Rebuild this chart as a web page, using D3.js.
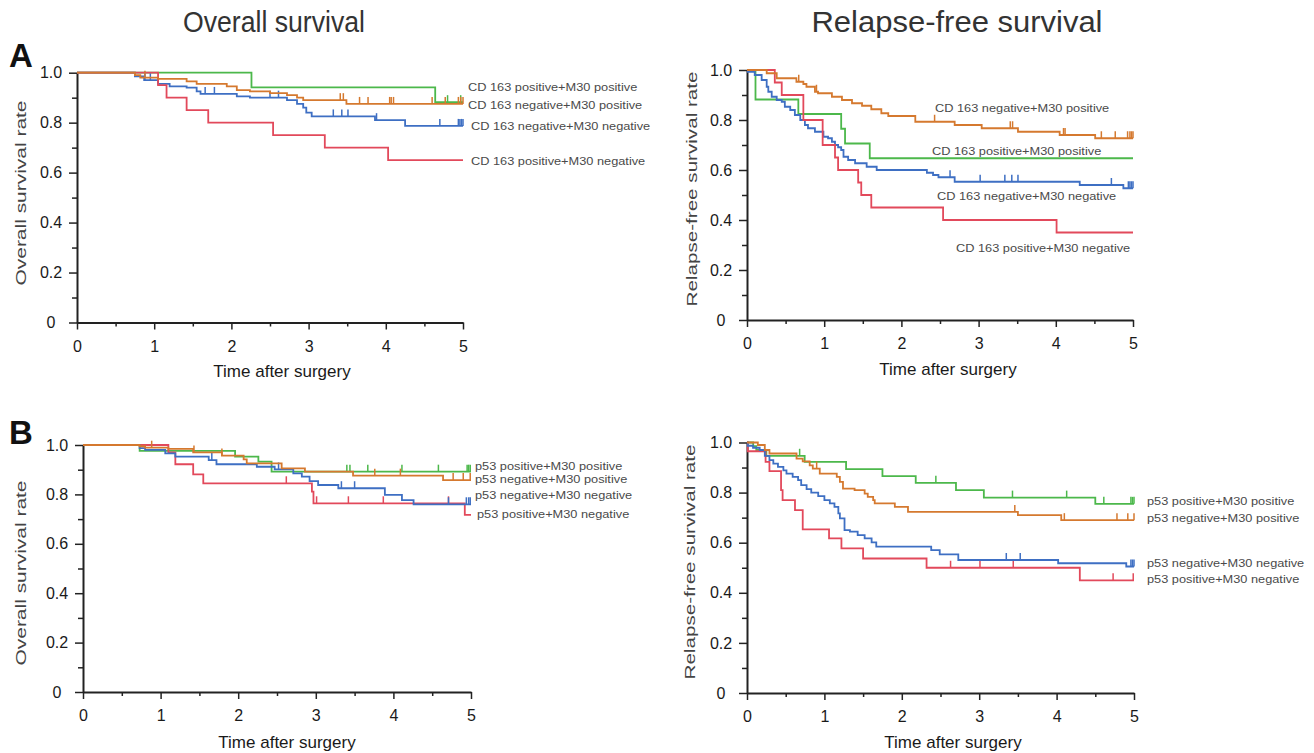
<!DOCTYPE html>
<html>
<head>
<meta charset="utf-8">
<script src="https://cdn.jsdelivr.net/npm/d3@7"></script>
<style>
  body { margin: 0; background: #fff; }
  svg { display: block; font-family: "Liberation Sans", Arial, sans-serif; }
</style>
</head>
<body>
<svg id="chart" width="1314" height="753"></svg>
<script>
// Step curves: [time, survival after the step]; censor marks as times

// A, overall survival, CD163 / M30
var osCdPosPos = [[2.26, 0.941], [4.64, 0.882]];
var osCdPosPosCens = [4.80, 4.97];
var osCdNegPos = [[0.75, 0.99], [0.82, 0.98], [1.05, 0.975], [1.42, 0.965], [1.55, 0.955], [1.94, 0.945], [2.07, 0.93], [2.24, 0.925], [2.50, 0.918], [2.72, 0.91], [2.85, 0.90], [2.93, 0.89], [3.49, 0.875]];
var osCdNegPosCens = [0.88, 3.41, 3.45, 3.66, 3.77, 4.05, 4.07, 4.10, 4.60, 4.77, 4.94, 4.97, 5.0];
var osCdNegNeg = [[0.75, 0.985], [0.87, 0.97], [1.05, 0.955], [1.20, 0.945], [1.42, 0.94], [1.55, 0.925], [1.60, 0.915], [2.07, 0.905], [2.24, 0.90], [2.72, 0.89], [2.85, 0.875], [2.93, 0.86], [2.97, 0.84], [3.04, 0.825], [3.86, 0.81], [4.25, 0.787]];
var osCdNegNegCens = [0.88, 0.95, 1.66, 1.78, 2.50, 2.61, 3.32, 3.43, 3.51, 3.88, 4.70, 4.94, 4.96, 4.98, 5.0];
var osCdPosNeg = [[1.05, 0.95], [1.16, 0.90], [1.42, 0.85], [1.70, 0.80], [2.54, 0.75], [3.21, 0.70], [4.03, 0.65]];
var osCdPosNegCens = [];

// A, relapse-free survival, CD163 / M30
var rfsCdNegPos = [[0.255, 0.987], [0.385, 0.967], [0.64, 0.953], [0.73, 0.944], [0.77, 0.933], [0.88, 0.913], [0.92, 0.907], [1.10, 0.893], [1.23, 0.88], [1.36, 0.867], [1.49, 0.857], [1.61, 0.843], [1.74, 0.827], [1.83, 0.816], [2.18, 0.793], [2.69, 0.78], [3.04, 0.767], [3.51, 0.753], [4.05, 0.74], [4.51, 0.727]];
var rfsCdNegPosCens = [0.67, 0.90, 2.43, 3.41, 3.44, 4.10, 4.12, 4.59, 4.77, 4.93, 4.96, 4.98, 5.0];
var rfsCdPosPos = [[0.11, 0.882], [0.665, 0.824], [1.22, 0.765], [1.27, 0.706], [1.59, 0.647]];
var rfsCdPosPosCens = [];
var rfsCdNegNeg = [[0.01, 0.993], [0.10, 0.98], [0.19, 0.96], [0.255, 0.933], [0.276, 0.913], [0.32, 0.893], [0.385, 0.88], [0.45, 0.873], [0.49, 0.853], [0.56, 0.84], [0.62, 0.82], [0.69, 0.80], [0.75, 0.78], [0.79, 0.767], [0.88, 0.753], [0.99, 0.733], [1.05, 0.727], [1.10, 0.713], [1.14, 0.70], [1.18, 0.691], [1.22, 0.68], [1.25, 0.653], [1.31, 0.64], [1.40, 0.627], [1.55, 0.613], [1.68, 0.60], [2.33, 0.589], [2.41, 0.58], [2.48, 0.571], [2.69, 0.553], [4.31, 0.54], [4.875, 0.527]];
var rfsCdNegNegCens = [2.63, 3.02, 3.34, 3.43, 3.51, 4.72, 4.94, 4.96, 4.98, 5.0];
var rfsCdPosNeg = [[0.36, 0.95], [0.45, 0.90], [0.73, 0.80], [0.98, 0.70], [1.14, 0.65], [1.18, 0.60], [1.44, 0.55], [1.48, 0.50], [1.61, 0.45], [2.54, 0.40], [4.01, 0.35]];
var rfsCdPosNegCens = [];

// B, overall survival, p53 / M30
var osP53PosPos = [[0.73, 0.976], [1.96, 0.953], [2.26, 0.933], [2.43, 0.892]];
var osP53PosPosCens = [3.40, 3.44, 3.67, 4.11, 4.58, 4.95, 4.97, 4.99];
var osP53NegPos = [[0.73, 0.995], [0.80, 0.989], [1.10, 0.984], [1.42, 0.97], [1.79, 0.957], [2.07, 0.942], [2.11, 0.926], [2.56, 0.905], [2.86, 0.892], [3.48, 0.876], [4.64, 0.858]];
var osP53NegPosCens = [0.885, 1.43, 1.79, 3.76, 4.09, 4.77, 4.90, 4.99];
var osP53NegNeg = [[0.73, 0.987], [0.80, 0.98], [1.06, 0.966], [1.19, 0.953], [1.62, 0.939], [1.72, 0.922], [2.24, 0.912], [2.47, 0.901], [2.71, 0.885], [2.82, 0.872], [2.92, 0.854], [3.03, 0.838], [3.29, 0.825], [3.89, 0.798], [4.11, 0.777], [4.26, 0.76]];
var osP53NegNegCens = [1.66, 2.52, 3.33, 3.50, 4.71, 4.94, 4.97, 4.99];
var osP53PosNeg = [[1.10, 0.97], [1.19, 0.922], [1.42, 0.881], [1.55, 0.845], [2.95, 0.811], [2.97, 0.764], [4.92, 0.717]];
var osP53PosNegCens = [2.62, 3.01, 3.42, 3.87, 4.71];

// B, relapse-free survival, p53 / M30
var rfsP53PosPos = [[0.08, 0.985], [0.12, 0.97], [0.25, 0.947], [0.745, 0.923], [1.28, 0.894], [1.75, 0.866], [2.18, 0.839], [2.70, 0.81], [3.06, 0.78], [4.50, 0.755]];
var rfsP53PosPosCens = [0.68, 2.44, 3.43, 4.13, 4.61, 4.96, 4.98, 5.0];
var rfsP53NegPos = [[0.14, 0.99], [0.23, 0.97], [0.29, 0.956], [0.64, 0.936], [0.72, 0.925], [0.81, 0.909], [0.85, 0.896], [0.94, 0.876], [1.16, 0.863], [1.20, 0.843], [1.24, 0.816], [1.39, 0.81], [1.52, 0.796], [1.56, 0.783], [1.63, 0.77], [1.65, 0.757], [1.91, 0.743], [2.08, 0.723], [3.50, 0.71], [4.06, 0.69]];
var rfsP53NegPosCens = [0.90, 3.46, 4.10, 4.78, 4.92, 5.0];
var rfsP53NegNeg = [[0.01, 0.987], [0.078, 0.979], [0.164, 0.97], [0.23, 0.947], [0.29, 0.93], [0.34, 0.916], [0.40, 0.903], [0.47, 0.889], [0.51, 0.876], [0.59, 0.863], [0.66, 0.85], [0.70, 0.83], [0.77, 0.814], [0.83, 0.80], [0.92, 0.786], [1.00, 0.77], [1.07, 0.757], [1.13, 0.743], [1.18, 0.717], [1.20, 0.697], [1.26, 0.65], [1.33, 0.644], [1.43, 0.63], [1.52, 0.617], [1.61, 0.601], [1.67, 0.584], [2.38, 0.57], [2.49, 0.553], [2.73, 0.531], [4.02, 0.518], [4.90, 0.505]];
var rfsP53NegNegCens = [3.35, 3.53, 4.96, 4.98, 5.0];
var rfsP53PosNeg = [[0.01, 0.965], [0.24, 0.923], [0.29, 0.886], [0.44, 0.81], [0.46, 0.77], [0.62, 0.73], [0.72, 0.653], [1.06, 0.617], [1.22, 0.577], [1.50, 0.537], [2.32, 0.50], [4.30, 0.45]];
var rfsP53PosNegCens = [2.63, 3.01, 3.44, 4.73, 4.99];

var xTicks = [0, 1, 2, 3, 4, 5],
    xMinor = [0.5, 1.5, 2.5, 3.5, 4.5],
    yTicks = [0, 0.2, 0.4, 0.6, 0.8, 1.0],
    yMinor = [0.1, 0.3, 0.5, 0.7, 0.9];

var green = '#4cb84b', orange = '#d5792f', blue = '#3e6fc3', red = '#e2495b';
var fontFam = '"Liberation Sans", Arial, sans-serif';

var svg = d3.select('#chart');

// Layout of the four panels (pixels)
var panels = [
  { x0: 77, x1: 463, y0: 322.5, y1: 72.7, yTitle: 'Overall survival rate', ytX: 21, ytY: 193, ytLen: 185, xtX: 282, xtY: 371,
    curves: [
      { steps: osCdPosPos, cens: osCdPosPosCens, color: green, label: 'CD 163 positive+M30 positive', lx: 468, ly: 87 },
      { steps: osCdNegNeg, cens: osCdNegNegCens, color: blue, label: 'CD 163 negative+M30 negative', lx: 471, ly: 126 },
      { steps: osCdPosNeg, cens: osCdPosNegCens, color: red, label: 'CD 163 positive+M30 negative', lx: 471, ly: 161 },
      { steps: osCdNegPos, cens: osCdNegPosCens, color: orange, label: 'CD 163 negative+M30 positive', lx: 468, ly: 105 }
    ] },
  { x0: 747, x1: 1133, y0: 320, y1: 70, yTitle: 'Relapse-free survival rate', ytX: 692, ytY: 189, ytLen: 235, xtX: 948, xtY: 369,
    curves: [
      { steps: rfsCdPosPos, cens: rfsCdPosPosCens, color: green, label: 'CD 163 positive+M30 positive', lx: 932, ly: 151 },
      { steps: rfsCdNegNeg, cens: rfsCdNegNegCens, color: blue, label: 'CD 163 negative+M30 negative', lx: 937, ly: 196 },
      { steps: rfsCdPosNeg, cens: rfsCdPosNegCens, color: red, label: 'CD 163 positive+M30 negative', lx: 956, ly: 248 },
      { steps: rfsCdNegPos, cens: rfsCdNegPosCens, color: orange, label: 'CD 163 negative+M30 positive', lx: 935, ly: 108 }
    ] },
  { x0: 83, x1: 471, y0: 692, y1: 445, yTitle: 'Overall survival rate', ytX: 21, ytY: 573, ytLen: 185, xtX: 287, xtY: 742,
    curves: [
      { steps: osP53PosPos, cens: osP53PosPosCens, color: green, label: 'p53 positive+M30 positive', lx: 475, ly: 466 },
      { steps: osP53PosNeg, cens: osP53PosNegCens, color: red, label: 'p53 positive+M30 negative', lx: 477, ly: 514 },
      { steps: osP53NegNeg, cens: osP53NegNegCens, color: blue, label: 'p53 negative+M30 negative', lx: 475, ly: 495 },
      { steps: osP53NegPos, cens: osP53NegPosCens, color: orange, label: 'p53 negative+M30 positive', lx: 475, ly: 479 }
    ] },
  { x0: 747, x1: 1134, y0: 693, y1: 442.5, yTitle: 'Relapse-free survival rate', ytX: 690, ytY: 562, ytLen: 235, xtX: 953, xtY: 742,
    curves: [
      { steps: rfsP53PosPos, cens: rfsP53PosPosCens, color: green, label: 'p53 positive+M30 positive', lx: 1147, ly: 501 },
      { steps: rfsP53PosNeg, cens: rfsP53PosNegCens, color: red, label: 'p53 positive+M30 negative', lx: 1147, ly: 579 },
      { steps: rfsP53NegNeg, cens: rfsP53NegNegCens, color: blue, label: 'p53 negative+M30 negative', lx: 1147, ly: 563 },
      { steps: rfsP53NegPos, cens: rfsP53NegPosCens, color: orange, label: 'p53 negative+M30 positive', lx: 1147, ly: 518 }
    ] }
];

function survAt(steps, t) {
  var s = 1;
  steps.forEach(function(p) { if (p[0] <= t) s = p[1]; });
  return s;
}

function yFmt(d) { return d === 0 ? '0' : d3.format('.1f')(d); }

function drawPanel(p) {
  var x = d3.scaleLinear().domain([0, 5]).range([p.x0, p.x1]);
  var y = d3.scaleLinear().domain([0, 1]).range([p.y0, p.y1]);
  var g = svg.append('g');

  // minor ticks
  g.append('g').attr('transform', 'translate(0,' + p.y0 + ')')
    .call(d3.axisBottom(x).tickValues(xMinor).tickSize(4).tickSizeOuter(0).tickFormat(''))
    .call(function(a) { a.select('.domain').remove(); a.selectAll('line').attr('stroke', '#222').attr('stroke-width', 1.5); });
  g.append('g').attr('transform', 'translate(' + p.x0 + ',0)')
    .call(d3.axisLeft(y).tickValues(yMinor).tickSize(5).tickSizeOuter(0).tickFormat(''))
    .call(function(a) { a.select('.domain').remove(); a.selectAll('line').attr('stroke', '#222').attr('stroke-width', 1.5); });

  // x axis
  var xa = g.append('g').attr('transform', 'translate(0,' + p.y0 + ')')
    .call(d3.axisBottom(x).tickValues(xTicks).tickSize(7).tickSizeOuter(0).tickFormat(d3.format('d')));
  xa.select('.domain').attr('stroke', '#222').attr('stroke-width', 2);
  xa.selectAll('line').attr('stroke', '#222').attr('stroke-width', 1.5);
  xa.selectAll('text').attr('y', 18).attr('font-size', 16).attr('font-family', fontFam).attr('fill', '#1a1a1a');

  // y axis
  var ya = g.append('g').attr('transform', 'translate(' + p.x0 + ',0)')
    .call(d3.axisLeft(y).tickValues(yTicks).tickSize(8).tickSizeOuter(0).tickFormat(yFmt));
  ya.select('.domain').attr('stroke', '#222').attr('stroke-width', 2);
  ya.selectAll('line').attr('stroke', '#222').attr('stroke-width', 1.5);
  ya.selectAll('text').attr('x', -26).attr('text-anchor', 'middle')
    .attr('font-size', 16).attr('font-family', fontFam).attr('fill', '#1a1a1a');

  // axis titles
  g.append('text')
    .attr('transform', 'translate(' + p.ytX + ',' + p.ytY + ') rotate(-90)')
    .attr('text-anchor', 'middle').attr('dy', '0.35em')
    .attr('font-size', 15).attr('fill', '#444')
    .attr('textLength', p.ytLen).attr('lengthAdjust', 'spacingAndGlyphs')
    .text(p.yTitle);
  g.append('text')
    .attr('x', p.xtX).attr('y', p.xtY).attr('dy', '0.35em')
    .attr('text-anchor', 'middle').attr('font-size', 17).attr('fill', '#1a1a1a')
    .text('Time after surgery');

  var line = d3.line()
    .x(function(d) { return x(d[0]); })
    .y(function(d) { return y(d[1]); })
    .curve(d3.curveStepAfter);

  p.curves.forEach(function(c) {
    var last = c.steps[c.steps.length - 1][1];
    var pts = [[0, 1]].concat(c.steps).concat([[5, last]]);
    g.append('path')
      .attr('d', line(pts))
      .attr('fill', 'none')
      .attr('stroke', c.color)
      .attr('stroke-width', 1.8);

    g.selectAll(null)
      .data(c.cens)
      .enter().append('line')
      .attr('x1', function(t) { return x(t); })
      .attr('x2', function(t) { return x(t); })
      .attr('y1', function(t) { return y(survAt(c.steps, t)); })
      .attr('y2', function(t) { return y(survAt(c.steps, t)) - 7; })
      .attr('stroke', c.color)
      .attr('stroke-width', 1.5);

    // curve label: small glyphs, a little wider than normal like the source
    var lab = g.append('text')
      .attr('x', c.lx).attr('y', c.ly).attr('dy', '0.35em')
      .attr('font-size', 11.3).attr('fill', '#4a4a4a')
      .text(c.label);
    var w = lab.node().getComputedTextLength();
    lab.attr('textLength', w * 1.13).attr('lengthAdjust', 'spacingAndGlyphs');
  });
}

panels.forEach(drawPanel);

// Column titles and panel letters
svg.append('text').attr('x', 274).attr('y', 32).attr('text-anchor', 'middle')
  .attr('font-size', 30).attr('fill', '#333')
  .attr('textLength', 182).attr('lengthAdjust', 'spacingAndGlyphs')
  .text('Overall survival');
svg.append('text').attr('x', 957).attr('y', 32).attr('text-anchor', 'middle')
  .attr('font-size', 30).attr('fill', '#333')
  .attr('textLength', 291).attr('lengthAdjust', 'spacingAndGlyphs')
  .text('Relapse-free survival');
svg.append('text').attr('x', 9).attr('y', 67)
  .attr('font-size', 33).attr('font-weight', 'bold').attr('fill', '#111').text('A');
svg.append('text').attr('x', 9).attr('y', 444)
  .attr('font-size', 33).attr('font-weight', 'bold').attr('fill', '#111').text('B');
</script>
</body>
</html>
